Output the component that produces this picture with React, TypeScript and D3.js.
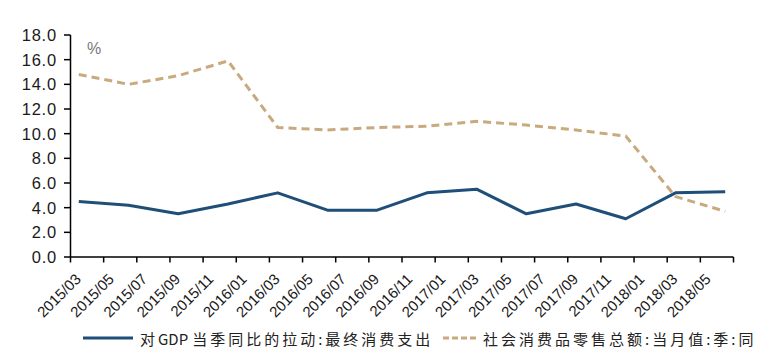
import React from "react";
import * as d3 from "d3";

const months = [
  "2015/03","2015/04","2015/05","2015/06","2015/07","2015/08","2015/09","2015/10","2015/11","2015/12",
  "2016/01","2016/02","2016/03","2016/04","2016/05","2016/06","2016/07","2016/08","2016/09","2016/10","2016/11","2016/12",
  "2017/01","2017/02","2017/03","2017/04","2017/05","2017/06","2017/07","2017/08","2017/09","2017/10","2017/11","2017/12",
  "2018/01","2018/02","2018/03","2018/04","2018/05","2018/06",
];
const tickLabels = [
  "2015/03","2015/05","2015/07","2015/09","2015/11",
  "2016/01","2016/03","2016/05","2016/07","2016/09","2016/11",
  "2017/01","2017/03","2017/05","2017/07","2017/09","2017/11",
  "2018/01","2018/03","2018/05",
];
const quarters = [
  "2015/03","2015/06","2015/09","2015/12","2016/03","2016/06","2016/09","2016/12",
  "2017/03","2017/06","2017/09","2017/12","2018/03","2018/06",
];
const gdpContribution = [4.5, 4.2, 3.5, 4.3, 5.2, 3.8, 3.8, 5.2, 5.5, 3.5, 4.3, 3.1, 5.2, 5.3];
const retailSales = [14.8, 14.0, 14.7, 15.9, 10.5, 10.3, 10.5, 10.6, 11.0, 10.7, 10.3, 9.8, 4.9, 3.7];
const yTicks = [0, 2, 4, 6, 8, 10, 12, 14, 16, 18];
const legendParts0 = ["对", "GDP", "当季同比的拉动:最终消费支出"];
const legendName1 = "社会消费品零售总额:当月值:季:同";

const W = 769;
const H = 361;
const BLUE = "#1F4E79";
const TAN = "#C9A97E";
const CJK = "'Noto Sans CJK SC', sans-serif";

export default function App() {
  const x = d3.scaleBand<string>().domain(months).range([70.5, 733.5]);
  const y = d3.scaleLinear().domain([0, 18]).range([257, 35]);
  const cx = (m: string) => (x(m) as number) + x.bandwidth() / 2;

  const line = d3
    .line<[string, number]>()
    .x((d) => cx(d[0]))
    .y((d) => y(d[1]));

  const gdpPts = quarters.map((q, i) => [q, gdpContribution[i]] as [string, number]);
  const retailPts = quarters.map((q, i) => [q, retailSales[i]] as [string, number]);

  const tickXs: number[] = [];
  months.forEach((m, i) => {
    if (i % 2 === 0) tickXs.push(x(m) as number);
  });
  tickXs.push(x.range()[1]);

  const fmt = d3.format(".1f");
  const y0 = y(0);

  return (
    <svg
      width={W}
      height={H}
      style={{ position: "absolute", left: 0, top: 0, background: "#fff" }}
      fontFamily="'Liberation Sans', Arial, sans-serif"
    >
      <rect x={0} y={0} width={W} height={H} fill="#fff" />
      {/* y axis */}
      <line x1={70.5} x2={70.5} y1={y(18)} y2={y0} stroke="#000" strokeWidth={1.5} />
      {yTicks.map((t) => (
        <g key={t}>
          <line x1={64} x2={70.5} y1={y(t)} y2={y(t)} stroke="#000" strokeWidth={1.5} />
          <text
            x={57}
            y={y(t)}
            dy="0.36em"
            textAnchor="end"
            fontSize={16.5}
            letterSpacing={0.8}
            fill="#1a1a1a"
          >
            {fmt(t)}
          </text>
        </g>
      ))}
      <text x={87} y={54} fontSize={16} fill="#777">%</text>

      {/* x axis */}
      <line x1={70.5} x2={733.5} y1={y0} y2={y0} stroke="#000" strokeWidth={1.5} />
      {tickXs.map((tx, i) => (
        <line key={i} x1={tx} x2={tx} y1={y0} y2={y0 + 5.5} stroke="#000" strokeWidth={1.5} />
      ))}
      {tickLabels.map((lab) => (
        <text
          key={lab}
          transform={`translate(${cx(lab) + 3},${y0 + 23}) rotate(-45)`}
          textAnchor="end"
          fontSize={15}
          fill="#1a1a1a"
        >
          {lab}
        </text>
      ))}

      {/* series */}
      <path d={line(retailPts) || ""} fill="none" stroke={TAN} strokeWidth={3} strokeDasharray="8 5" />
      <path d={line(gdpPts) || ""} fill="none" stroke={BLUE} strokeWidth={3} strokeLinejoin="round" />

      {/* legend */}
      <line x1={83} x2={133} y1={338} y2={338} stroke={BLUE} strokeWidth={3} />
      <text x={140} y={345} fontSize={15} fontFamily={CJK} fill="#222">
        <tspan letterSpacing={3}>{legendParts0[0]}</tspan>
        <tspan letterSpacing={0}>{legendParts0[1]}</tspan>
        <tspan letterSpacing={3} dx={4}>{legendParts0[2]}</tspan>
      </text>
      <line x1={443} x2={478} y1={338} y2={338} stroke={TAN} strokeWidth={3} strokeDasharray="6 3" />
      <text x={483} y={345} fontSize={15} letterSpacing={3} fontFamily={CJK} fill="#222">
        {legendName1}
      </text>
    </svg>
  );
}
